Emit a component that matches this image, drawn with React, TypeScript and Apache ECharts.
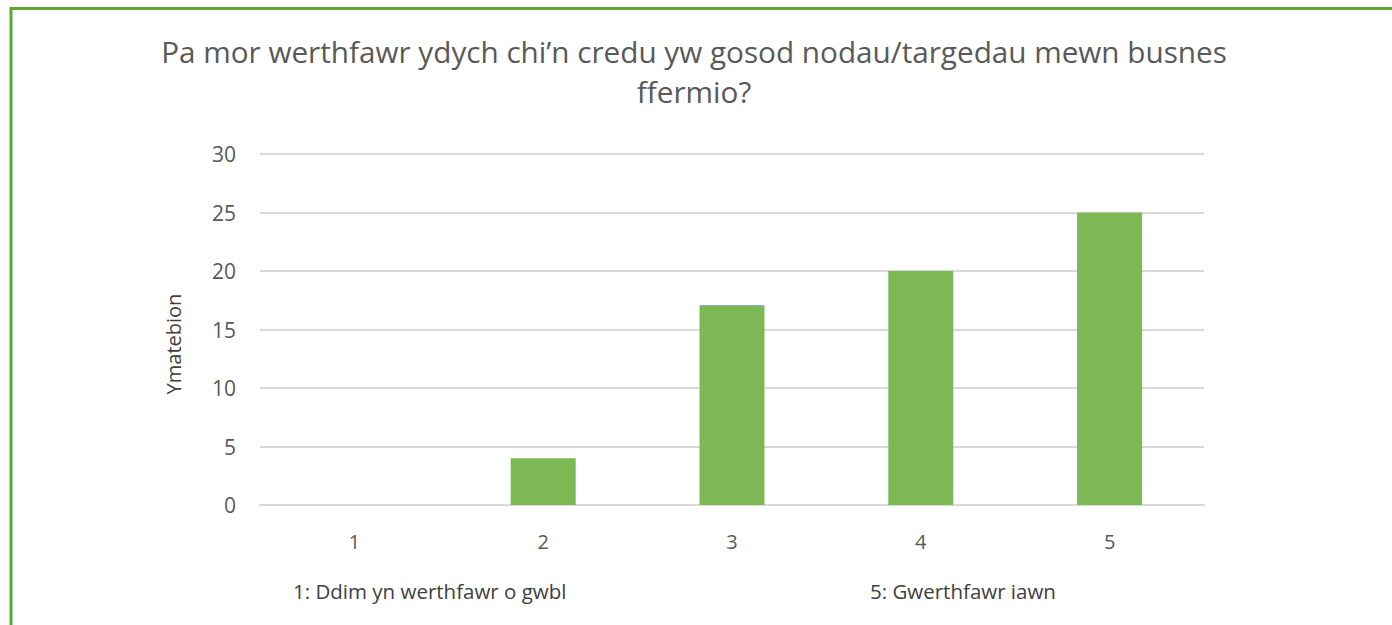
import React, { useEffect, useRef } from "react";
import * as echarts from "echarts";

const categories = ["1", "2", "3", "4", "5"];
const responses = [0, 4, 17, 20, 25];
const sliver = [0, 0, 0.1, 0, 0];
const titleText = "Pa mor werthfawr ydych chi\u2019n credu yw gosod nodau/targedau mewn busnes\nffermio?";
const yAxisName = "Ymatebion";
const noteLow = "1: Ddim yn werthfawr o gwbl";
const noteHigh = "5: Gwerthfawr iawn";

export default function App() {
  const ref = useRef<HTMLDivElement>(null);
  useEffect(() => {
    if (!ref.current) return;
    const chart = echarts.init(ref.current, null, { renderer: "svg" });
    const font = "'Open Sans', 'Noto Sans', sans-serif";
    chart.setOption({
      animation: false,
      backgroundColor: "#ffffff",
      textStyle: { fontFamily: font },
      title: {
        text: titleText,
        left: 689,
        top: 26,
        textAlign: "center",
        textStyle: {
          fontFamily: font,
          fontSize: 29.7,
          fontWeight: "normal",
          color: "#595959",
          lineHeight: 40,
        },
      },
      grid: { left: 260, right: 188, top: 154, bottom: 120 },
      xAxis: {
        type: "category",
        data: categories,
        axisLine: { show: true, lineStyle: { color: "#d9d9d9", width: 2 } },
        axisTick: { show: false },
        axisLabel: { color: "#595959", fontSize: 20, margin: 26, fontFamily: font },
      },
      yAxis: {
        type: "value",
        min: 0,
        max: 30,
        interval: 5,
        axisLine: { show: false },
        axisTick: { show: false },
        axisLabel: { color: "#595959", fontSize: 21, margin: 24, fontFamily: font },
        splitLine: { lineStyle: { color: "#d9d9d9", width: 2 } },
      },
      series: [
        {
          type: "bar",
          stack: "a",
          data: responses,
          barWidth: 65,
          itemStyle: { color: "#7cb955" },
        },
        {
          type: "bar",
          stack: "a",
          data: sliver,
          barWidth: 65,
          itemStyle: { color: "#8faadc" },
        },
      ],
      graphic: [
        {
          type: "line",
          shape: { x1: 10, y1: 8.5, x2: 1392, y2: 8.5 },
          style: { stroke: "#5ea72f", lineWidth: 3 },
        },
        {
          type: "line",
          shape: { x1: 11, y1: 7, x2: 11, y2: 625 },
          style: { stroke: "#5ea72f", lineWidth: 3 },
        },
        {
          type: "text",
          x: 173,
          y: 344,
          rotation: Math.PI / 2,
          style: {
            text: yAxisName,
            fontSize: 20,
            fontFamily: font,
            fill: "#404040",
            textAlign: "center",
            textVerticalAlign: "middle",
          },
        },
        {
          type: "text",
          x: 293,
          y: 591,
          style: {
            text: noteLow,
            fontSize: 20.5,
            fontFamily: font,
            fill: "#404040",
            textVerticalAlign: "middle",
          },
        },
        {
          type: "text",
          x: 870,
          y: 591,
          style: {
            text: noteHigh,
            fontSize: 20.5,
            fontFamily: font,
            fill: "#404040",
            textVerticalAlign: "middle",
          },
        },
      ],
    });
    return () => chart.dispose();
  }, []);
  return (
    <div
      ref={ref}
      style={{ position: "fixed", left: 0, top: 0, width: 1392, height: 625 }}
    />
  );
}
